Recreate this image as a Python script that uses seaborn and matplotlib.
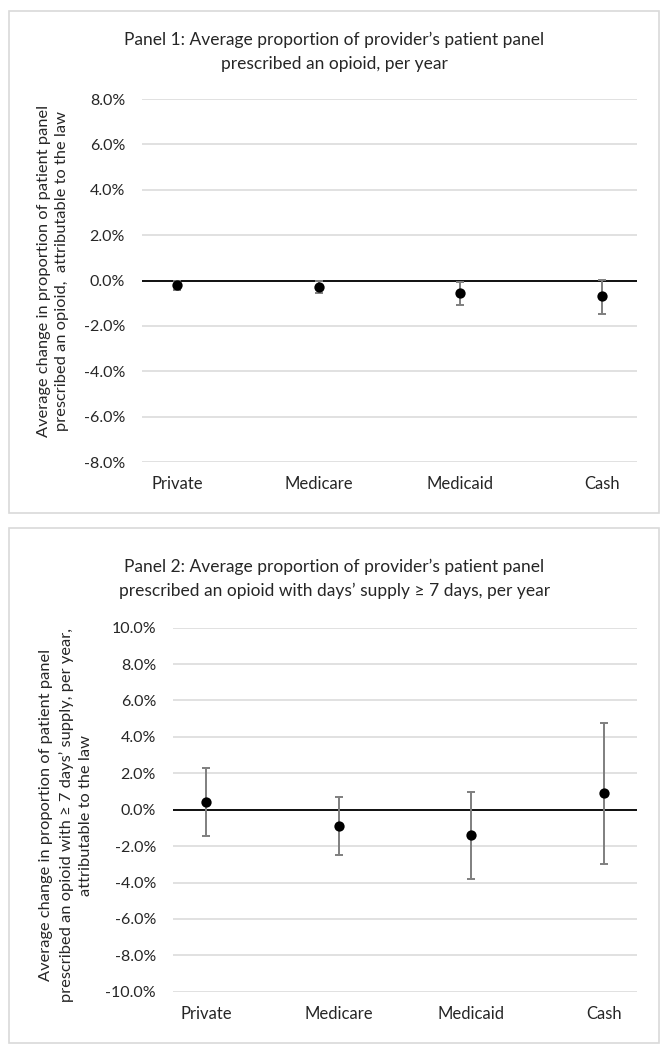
import matplotlib.pyplot as plt
import matplotlib.ticker as mticker
from matplotlib.patches import Rectangle
import seaborn as sns

# ---------------------------------------------------------
# data (percentage points)
# ---------------------------------------------------------
payers = ["Private", "Medicare", "Medicaid", "Cash"]

panel1_est = [-0.19, -0.29, -0.57, -0.70]
panel1_low = [-0.44, -0.54, -1.08, -1.47]
panel1_high = [-0.02, -0.04, -0.05, 0.02]

panel2_est = [0.44, -0.88, -1.41, 0.90]
panel2_low = [-1.45, -2.48, -3.78, -3.01]
panel2_high = [2.29, 0.72, 0.97, 4.77]

panel1_ticks = [-8, -6, -4, -2, 0, 2, 4, 6, 8]
panel2_ticks = [-10, -8, -6, -4, -2, 0, 2, 4, 6, 8, 10]

panel1_title = "Panel 1: Average proportion of provider\u2019s patient panel\nprescribed an opioid, per year"
panel2_title = ("Panel 2: Average proportion of provider\u2019s patient panel\n"
                "prescribed an opioid with days\u2019 supply \u2265 7 days, per year")
panel1_ylabel = ("Average change in proportion of patient panel\n"
                 "prescribed an opioid,  attributable to the law")
panel2_ylabel = ("Average change in proportion of patient panel\n"
                 "prescribed an opioid with \u2265 7 days\u2019 supply, per year,\n"
                 "attributable to the law")

sns.set_theme(style="white")
plt.rcParams["font.family"] = ["Lato", "DejaVu Sans"]
plt.rcParams["text.color"] = "#000000"

GRID = "#d9d9d9"
TEXT = "#262626"


def draw_panel(fig, rect, est, low, high, ticks, title_text, title_y, ylabel, ylabel_xy):
    ax = fig.add_axes(rect)
    yerr = [[e - lo for e, lo in zip(est, low)], [hi - e for e, hi in zip(est, high)]]

    ax.errorbar(payers, est, yerr=yerr, fmt="none", ecolor="#7f7f7f",
                elinewidth=1.4, capsize=3.2, capthick=1.4, zorder=2)
    sns.scatterplot(x=payers, y=est, color="black", s=55, edgecolor="black",
                    linewidth=0, zorder=3, ax=ax)

    ax.set_xlim(-0.25, 3.25)
    ax.set_ylim(ticks[0], ticks[-1])
    ax.set_yticks(ticks)
    ax.yaxis.set_major_formatter(mticker.FuncFormatter(lambda v, _: f"{v:.1f}%"))
    ax.grid(axis="y", color=GRID, linewidth=1.1)
    ax.grid(axis="x", visible=False)
    ax.axhline(0, color="black", linewidth=1.3, zorder=1.5)
    for side in ax.spines.values():
        side.set_visible(False)
    ax.tick_params(axis="y", length=0, pad=12, labelsize=11.5, labelcolor=TEXT)
    ax.tick_params(axis="x", length=0, pad=10, labelsize=12, labelcolor=TEXT)
    ax.set_xlabel("")
    ax.set_ylabel("")

    fig.text(0.5, title_y, title_text, ha="center", va="center", fontsize=12.5,
             color=TEXT, linespacing=1.6)
    fig.text(ylabel_xy[0], ylabel_xy[1], ylabel, ha="center", va="center",
             rotation=90, fontsize=11.8, color=TEXT, linespacing=1.45)
    return ax


fig = plt.figure(figsize=(6.69, 10.5), dpi=100)

# light grey frames round each panel
fig.add_artist(Rectangle((0.0135, 0.5114), 0.9715, 0.4781, transform=fig.transFigure,
                         fill=False, edgecolor=GRID, linewidth=1.2))
fig.add_artist(Rectangle((0.0135, 0.0067), 0.9715, 0.4904, transform=fig.transFigure,
                         fill=False, edgecolor=GRID, linewidth=1.2))

draw_panel(fig, [0.2118, 0.560, 0.7411, 0.3457], panel1_est, panel1_low, panel1_high,
           panel1_ticks, panel1_title, 1 - 52 / 1050, panel1_ylabel, (53 / 669, 1 - 271 / 1050))
draw_panel(fig, [0.2581, 0.0555, 0.6941, 0.3467], panel2_est, panel2_low, panel2_high,
           panel2_ticks, panel2_title, 1 - 579 / 1050, panel2_ylabel, (66 / 669, 1 - 815 / 1050))

fig.savefig("out.png", dpi=100)
plt.close(fig)
